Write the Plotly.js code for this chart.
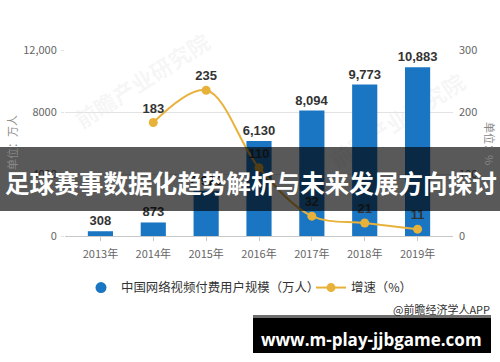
<!DOCTYPE html>
<html><head><meta charset="utf-8">
<script src="https://cdn.plot.ly/plotly-3.0.1.min.js"></script>
<style>html,body{margin:0;padding:0;background:#fff}#chart{width:500px;height:362px}</style>
</head><body><div id="chart"></div>
<script>
// ---- data ----
const years = ['2013年','2014年','2015年','2016年','2017年','2018年','2019年'];
const users = [308, 873, 2920, 6130, 8094, 9773, 10883];
const growthYears = ['2014年','2015年','2016年','2017年','2018年','2019年'];
const growth = [183, 235, 110, 32, 21, 11];
const leftTickVals = [0, 4000, 8000, 12000];
const leftTickText = ['0', '4000', '8000', '12,000'];
const rightTickVals = [0, 100, 200, 300];
const seriesNames = ['中国网络视频付费用户规模（万人）', '增速（%）'];
const leftTitle = '单位：万人';
const rightTitle = '单位：%';
const bannerText = '足球赛事数据化趋势解析与未来发展方向探讨';
const creditText = '@前瞻经济学人APP';
const siteText = 'www.m-play-jjbgame.com';
const watermarkText = '前瞻产业研究院';

// ---- layout helpers (pixel -> paper) ----
const L = 65, T = 50, W = 388, H = 186;
const px = x => (x - L) / W;
const py = y => (T + H - y) / H;

const CJK = '"Noto Sans CJK SC", "Noto Sans", sans-serif';
const BLUE = '#1a76c2';
const GOLD = '#e8b23a';
const LABELFONT = { family: '"Liberation Sans", Arial, sans-serif', size: 13, color: '#333', weight: 'bold' };
const LEGENDFONT = { family: CJK, size: 12.4, color: '#333' };

const traces = [
  {
    type: 'bar', x: years, y: users, yaxis: 'y',
    marker: { color: BLUE }, width: 0.476,
    text: users.map(v => v.toLocaleString('en-US')),
    textposition: 'outside', cliponaxis: false, constraintext: 'none',
    textfont: LABELFONT,
    showlegend: false, hoverinfo: 'skip'
  },
  {
    type: 'scatter', mode: 'markers', x: [years[0]], y: [null], yaxis: 'y',
    name: seriesNames[0], marker: { color: BLUE, size: 11, symbol: 'circle' },
    showlegend: true, legend: 'legend', hoverinfo: 'skip'
  },
  {
    type: 'scatter', mode: 'lines+markers+text', x: growthYears, y: growth, yaxis: 'y2',
    name: seriesNames[1],
    line: { color: GOLD, width: 2, shape: 'spline', smoothing: 1 },
    marker: { color: GOLD, size: 9 },
    text: growth.map(String), textposition: 'top center', cliponaxis: false,
    textfont: LABELFONT,
    showlegend: true, legend: 'legend2', hoverinfo: 'skip'
  }
];

const layout = {
  width: 500, height: 362, autosize: false,
  margin: { l: L, r: 500 - L - W, t: T, b: 362 - T - H, pad: 0 },
  paper_bgcolor: '#fff', plot_bgcolor: '#fff',
  font: { family: CJK, size: 11, color: '#666' },
  xaxis: {
    type: 'category', range: [-0.67, 6.67], fixedrange: true,
    showline: true, linecolor: '#c8c8c8', linewidth: 1,
    ticks: 'outside', ticklen: 4, tickcolor: '#c8c8c8',
    showgrid: false, zeroline: false, ticklabelstandoff: 4,
    tickfont: { family: CJK, size: 11, color: '#666' }
  },
  yaxis: {
    range: [0, 12000], tickvals: leftTickVals, ticktext: leftTickText,
    showgrid: true, gridcolor: '#e3e3e3', gridwidth: 1, zeroline: false,
    showline: false, ticks: 'outside', ticklen: 3, tickcolor: '#e3e3e3',
    ticklabelstandoff: 2, tickfont: { family: CJK, size: 11, color: '#666' }, fixedrange: true
  },
  yaxis2: {
    range: [0, 300], tickvals: rightTickVals, overlaying: 'y', side: 'right',
    showgrid: false, zeroline: false, showline: false, ticks: '',
    ticklabelstandoff: 5, tickfont: { family: CJK, size: 11, color: '#666' }, fixedrange: true
  },
  showlegend: true,
  legend: {
    orientation: 'h', x: px(81), xanchor: 'left', y: py(288), yanchor: 'middle',
    font: LEGENDFONT, bgcolor: 'rgba(0,0,0,0)',
    itemclick: false, itemdoubleclick: false
  },
  legend2: {
    orientation: 'h', x: px(311), xanchor: 'left', y: py(288), yanchor: 'middle',
    font: LEGENDFONT, bgcolor: 'rgba(0,0,0,0)',
    itemclick: false, itemdoubleclick: false
  },
  shapes: [
    { type: 'line', xref: 'paper', yref: 'paper', x0: px(80), y0: py(146), x1: px(228), y1: py(52),
      line: { width: 0, color: 'rgba(0,0,0,0)' }, layer: 'below',
      label: { text: watermarkText, textangle: 'auto', textposition: 'middle',
               font: { family: CJK, size: 22, color: 'rgba(120,120,120,0.08)', weight: 'bold' } } },
    { type: 'line', xref: 'paper', yref: 'paper', x0: px(335), y0: py(186), x1: px(483), y1: py(92),
      line: { width: 0, color: 'rgba(0,0,0,0)' }, layer: 'below',
      label: { text: watermarkText, textangle: 'auto', textposition: 'middle',
               font: { family: CJK, size: 22, color: 'rgba(120,120,120,0.08)', weight: 'bold' } } },
    { type: 'rect', xref: 'paper', yref: 'paper', x0: px(-2), x1: px(502), y0: py(211), y1: py(147),
      fillcolor: 'rgba(0,0,0,0.65)', line: { width: 0 }, layer: 'above' },
    { type: 'rect', xref: 'paper', yref: 'paper', x0: px(253), x1: px(491), y0: py(318), y1: py(315),
      fillcolor: '#6e6e6e', line: { width: 0 }, layer: 'above' },
    { type: 'rect', xref: 'paper', yref: 'paper', x0: px(253), x1: px(491), y0: py(353), y1: py(318),
      fillcolor: '#000', line: { width: 0 }, layer: 'above' }
  ],
  annotations: [
    { xref: 'paper', yref: 'paper', x: px(12), y: 0.5, text: leftTitle, textangle: -90,
      showarrow: false, xanchor: 'center', yanchor: 'middle', font: { family: CJK, size: 11, color: '#888' } },
    { xref: 'paper', yref: 'paper', x: px(490), y: 0.5, text: rightTitle, textangle: 90,
      showarrow: false, xanchor: 'center', yanchor: 'middle', font: { family: CJK, size: 11, color: '#888' } },
    { xref: 'paper', yref: 'paper', x: px(251), y: py(182), text: bannerText, showarrow: false,
      xanchor: 'center', yanchor: 'middle', font: { family: CJK, size: 24.6, color: '#fff', weight: 'bold' } },
    { xref: 'paper', yref: 'paper', x: px(492), y: py(309), text: creditText, showarrow: false,
      xanchor: 'right', yanchor: 'middle', font: { family: CJK, size: 11, color: '#333' } },
    { xref: 'paper', yref: 'paper', x: px(371), y: py(339), text: siteText, showarrow: false,
      xanchor: 'center', yanchor: 'middle', font: { family: '"Open Sans", "DejaVu Sans", sans-serif', size: 17, color: '#fff', weight: 'bold' } }
  ]
};

Plotly.newPlot('chart', traces, layout, { displayModeBar: false, staticPlot: true });
</script>
</body></html>
